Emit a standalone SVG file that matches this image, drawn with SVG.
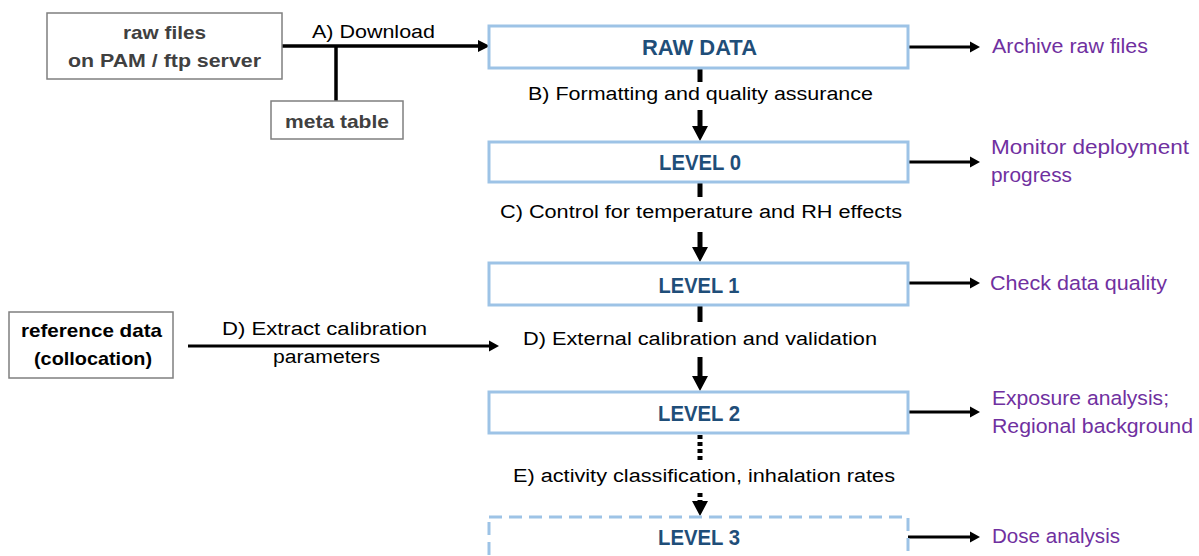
<svg xmlns="http://www.w3.org/2000/svg" width="1199" height="556" viewBox="0 0 1199 556">
  <style>
    .lvl { fill: #ffffff; stroke: #9DC3E6; stroke-width: 3; }
    .lvl-dash { fill: #ffffff; stroke: #9DC3E6; stroke-width: 3; stroke-dasharray: 13 7; }
    .src { fill: #ffffff; stroke: #7F7F7F; stroke-width: 1.5; }
    .lvl-t { font-family: "Liberation Sans", Arial, sans-serif; font-weight: bold; font-size: 22px; fill: #1F4E79; text-anchor: middle; }
    .src-t { font-family: "Liberation Sans", Arial, sans-serif; font-weight: bold; font-size: 18.5px; fill: #404040; text-anchor: middle; }
    .ref-t { font-family: "Liberation Sans", Arial, sans-serif; font-weight: bold; font-size: 18.5px; fill: #000000; text-anchor: middle; }
    .step { font-family: "Liberation Sans", Arial, sans-serif; font-size: 18px; fill: #000000; text-anchor: middle; }
    .use { font-family: "Liberation Sans", Arial, sans-serif; font-size: 20.5px; fill: #7030A0; }
    .main { stroke: #000000; stroke-width: 5; fill: none; }
    .side { stroke: #000000; stroke-width: 3; fill: none; }
    .dl { stroke: #000000; stroke-width: 3.5; fill: none; }
  </style>
  <defs>
    <marker id="headMain" markerUnits="userSpaceOnUse" markerWidth="16" markerHeight="17" refX="0" refY="8" orient="auto" overflow="visible">
      <path d="M0,0 L15,8 L0,16 Z" fill="#000000"/>
    </marker>
    <marker id="headSide" markerUnits="userSpaceOnUse" markerWidth="11" markerHeight="12" refX="0" refY="5.5" orient="auto" overflow="visible">
      <path d="M0,0 L10,5.5 L0,11 Z" fill="#000000"/>
    </marker>
    <marker id="headDl" markerUnits="userSpaceOnUse" markerWidth="13" markerHeight="13" refX="0" refY="6" orient="auto" overflow="visible">
      <path d="M0,0 L12,6 L0,12 Z" fill="#000000"/>
    </marker>
  </defs>

  <!-- connectors -->
  <g id="connectors">
    <!-- download from server, with meta table joining -->
    <line class="dl" x1="282" y1="46" x2="478" y2="46" marker-end="url(#headDl)"/>
    <line class="dl" x1="336" y1="46" x2="336" y2="101"/>
    <!-- reference data to calibration -->
    <line class="side" x1="188" y1="346" x2="489" y2="346" marker-end="url(#headSide)"/>

    <!-- raw data -> level 0 -->
    <line class="main" x1="700" y1="68" x2="700" y2="82"/>
    <line class="main" x1="700" y1="110" x2="700" y2="126" marker-end="url(#headMain)"/>
    <!-- level 0 -> level 1 -->
    <line class="main" x1="700" y1="182" x2="700" y2="197"/>
    <line class="main" x1="700" y1="232" x2="700" y2="247" marker-end="url(#headMain)"/>
    <!-- level 1 -> level 2 -->
    <line class="main" x1="700" y1="305" x2="700" y2="322"/>
    <line class="main" x1="700" y1="357" x2="700" y2="376" marker-end="url(#headMain)"/>
    <!-- level 2 -> level 3 (planned) -->
    <line class="main" x1="700" y1="435" x2="700" y2="463" stroke-dasharray="4 3"/>
    <line class="main" x1="700" y1="493" x2="700" y2="501" stroke-dasharray="4 3" marker-end="url(#headMain)"/>

    <!-- outputs on the right -->
    <line class="side" x1="908" y1="47" x2="970" y2="47" marker-end="url(#headSide)"/>
    <line class="side" x1="908" y1="162" x2="970" y2="162" marker-end="url(#headSide)"/>
    <line class="side" x1="908" y1="283" x2="970" y2="283" marker-end="url(#headSide)"/>
    <line class="side" x1="908" y1="412" x2="970" y2="412" marker-end="url(#headSide)"/>
    <line class="side" x1="908" y1="537" x2="970" y2="537" marker-end="url(#headSide)"/>

    <!-- step labels -->
    <text class="step" x="373.5" y="38" textLength="123" lengthAdjust="spacingAndGlyphs">A) Download</text>
    <text class="step" x="700.5" y="100" textLength="345" lengthAdjust="spacingAndGlyphs">B) Formatting and quality assurance</text>
    <text class="step" x="701" y="218" textLength="402" lengthAdjust="spacingAndGlyphs">C) Control for temperature and RH effects</text>
    <text class="step" x="700" y="345" textLength="354" lengthAdjust="spacingAndGlyphs">D) External calibration and validation</text>
    <text class="step" x="704" y="482" textLength="382" lengthAdjust="spacingAndGlyphs">E) activity classification, inhalation rates</text>
    <text class="step" x="324.5" y="335" textLength="205" lengthAdjust="spacingAndGlyphs">D) Extract calibration</text>
    <text class="step" x="326.5" y="363" textLength="107" lengthAdjust="spacingAndGlyphs">parameters</text>
  </g>

  <!-- sources -->
  <g id="raw-files">
    <rect class="src" x="47" y="13" width="235" height="66"/>
    <text class="src-t" x="164.5" y="39" textLength="83" lengthAdjust="spacingAndGlyphs">raw files</text>
    <text class="src-t" x="164.5" y="67" textLength="193" lengthAdjust="spacingAndGlyphs">on PAM / ftp server</text>
  </g>
  <g id="meta-table">
    <rect class="src" x="271" y="101" width="132" height="38"/>
    <text class="src-t" x="337" y="128" textLength="104" lengthAdjust="spacingAndGlyphs">meta table</text>
  </g>
  <g id="reference-data">
    <rect class="src" x="9" y="312" width="164" height="66"/>
    <text class="ref-t" x="91.5" y="337" textLength="141" lengthAdjust="spacingAndGlyphs">reference data</text>
    <text class="ref-t" x="93" y="365" textLength="118" lengthAdjust="spacingAndGlyphs">(collocation)</text>
  </g>

  <!-- processing levels -->
  <g id="raw-data">
    <rect class="lvl" x="489" y="26" width="419" height="42"/>
    <text class="lvl-t" x="699.5" y="55" textLength="115" lengthAdjust="spacingAndGlyphs">RAW DATA</text>
  </g>
  <g id="level-0">
    <rect class="lvl" x="489" y="142" width="419" height="40"/>
    <text class="lvl-t" x="700" y="170" textLength="82" lengthAdjust="spacingAndGlyphs">LEVEL 0</text>
  </g>
  <g id="level-1">
    <rect class="lvl" x="489" y="263" width="419" height="42"/>
    <text class="lvl-t" x="699" y="293" textLength="81" lengthAdjust="spacingAndGlyphs">LEVEL 1</text>
  </g>
  <g id="level-2">
    <rect class="lvl" x="489" y="392" width="419" height="41"/>
    <text class="lvl-t" x="699" y="421" textLength="82" lengthAdjust="spacingAndGlyphs">LEVEL 2</text>
  </g>
  <g id="level-3">
    <rect class="lvl-dash" x="489" y="517" width="419" height="60"/>
    <text class="lvl-t" x="699" y="545" textLength="82" lengthAdjust="spacingAndGlyphs">LEVEL 3</text>
  </g>

  <!-- uses of each level -->
  <g id="use-archive">
    <text class="use" x="992" y="53" textLength="156" lengthAdjust="spacingAndGlyphs">Archive raw files</text>
  </g>
  <g id="use-monitor">
    <text class="use" x="991" y="154" textLength="198" lengthAdjust="spacingAndGlyphs">Monitor deployment</text>
    <text class="use" x="991" y="182" textLength="81" lengthAdjust="spacingAndGlyphs">progress</text>
  </g>
  <g id="use-quality">
    <text class="use" x="990" y="290" textLength="177" lengthAdjust="spacingAndGlyphs">Check data quality</text>
  </g>
  <g id="use-exposure">
    <text class="use" x="992" y="405" textLength="177" lengthAdjust="spacingAndGlyphs">Exposure analysis;</text>
    <text class="use" x="992" y="433" textLength="201" lengthAdjust="spacingAndGlyphs">Regional background</text>
  </g>
  <g id="use-dose">
    <text class="use" x="992" y="543" textLength="128" lengthAdjust="spacingAndGlyphs">Dose analysis</text>
  </g>
</svg>
